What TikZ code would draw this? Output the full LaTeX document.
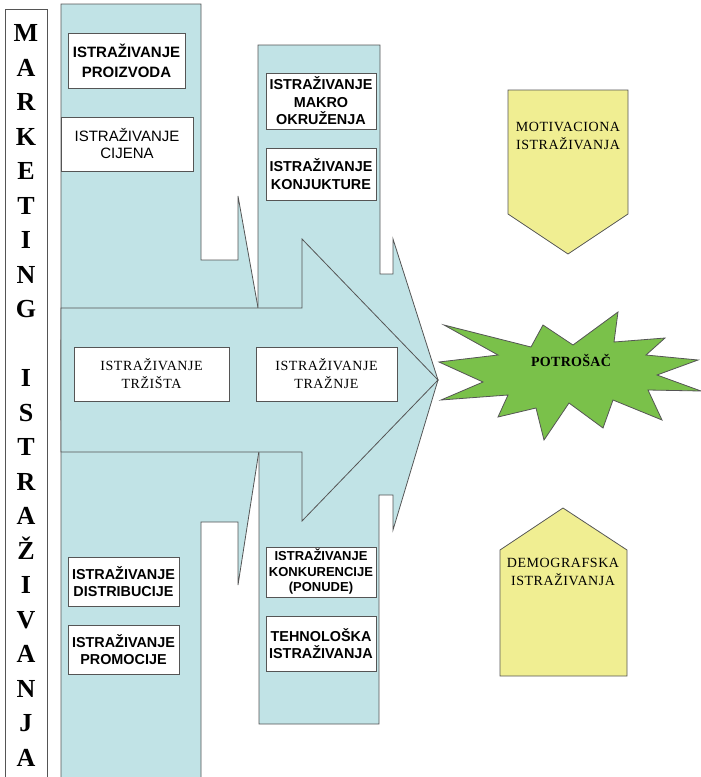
\documentclass[tikz,border=0pt]{standalone}
\usepackage{fontspec}
\setmainfont{Liberation Serif}
\setsansfont{Liberation Sans}
\usepackage{xcolor}
\usetikzlibrary{calc}
\definecolor{flowblue}{RGB}{193,227,230}
\definecolor{penyellow}{RGB}{240,238,146}
\definecolor{burstgreen}{RGB}{122,193,74}
\definecolor{edgegray}{RGB}{85,85,85}

\tikzset{
  flowshape/.style={fill=flowblue, draw=edgegray, line width=0.8pt, line join=miter},
  penshape/.style={fill=penyellow, draw=edgegray, line width=0.8pt},
  boldbox/.style={draw=edgegray, fill=white, line width=1pt, inner sep=0pt, align=center,
    font=\sffamily\bfseries\fontsize{14.4}{17.5}\selectfont},
  plainbox/.style={draw=edgegray, fill=white, line width=1pt, inner sep=0pt, align=center,
    font=\sffamily\fontsize{15}{17}\selectfont},
  serifbox/.style={draw=edgegray, fill=white, line width=1pt, inner sep=0pt, align=center,
    font=\fontsize{14}{18}\selectfont\addfontfeature{LetterSpace=4}},
  seriftext/.style={inner sep=0pt, align=center,
    font=\fontsize{14}{18}\selectfont\addfontfeature{LetterSpace=4}},
  sideletter/.style={inner sep=0pt, anchor=base, font=\bfseries\fontsize{26}{26}\selectfont}
}

\begin{document}
\begin{tikzpicture}[x=1pt,y=-1pt]
    \useasboundingbox (0,0) rectangle (701,777);

    % upper left bent arrow
    \coordinate (a1) at (61,4);
    \coordinate (a2) at (201,4);
    \coordinate (a3) at (201,260);
    \coordinate (a4) at (238,260);
    \coordinate (a5) at (238,196);
    \coordinate (a6) at (262,330);
    \coordinate (a7) at (238,420);
    \coordinate (a8) at (61,420);

    % lower left bent arrow
    \coordinate (b1) at (61,780);
    \coordinate (b2) at (201,780);
    \coordinate (b3) at (201,522);
    \coordinate (b4) at (238,522);
    \coordinate (b5) at (238,585);
    \coordinate (b6) at (263,425);
    \coordinate (b7) at (238,340);
    \coordinate (b8) at (61,340);

    % upper middle bent arrow
    \coordinate (c1) at (258,45);
    \coordinate (c2) at (380,45);
    \coordinate (c3) at (380,274);
    \coordinate (c4) at (393,274);
    \coordinate (c5) at (393,239);
    \coordinate (tip) at (438,380);
    \coordinate (c6) at (258,380);

    % lower middle bent arrow
    \coordinate (d1) at (259,724);
    \coordinate (d2) at (379,724);
    \coordinate (d3) at (379,495);
    \coordinate (d4) at (393,495);
    \coordinate (d5) at (393,530);
    \coordinate (d6) at (259,380);

    % main arrow
    \coordinate (m1) at (61,308);
    \coordinate (m2) at (302,308);
    \coordinate (m3) at (302,239);
    \coordinate (m4) at (302,521);
    \coordinate (m5) at (302,452);
    \coordinate (m6) at (61,452);

    % Fill arrows
    \filldraw[flowshape] (a1) -- (a2) -- (a3) -- (a4) -- (a5) -- (a6) -- (a7) -- (a8) -- cycle;
    \filldraw[flowshape] (b1) -- (b2) -- (b3) -- (b4) -- (b5) -- (b6) -- (b7) -- (b8) -- cycle;
    \filldraw[flowshape] (c1) -- (c2) -- (c3) -- (c4) -- (c5) -- (tip) -- (c6) -- cycle;
    \filldraw[flowshape] (d1) -- (d2) -- (d3) -- (d4) -- (d5) -- (tip) -- (d6) -- cycle;
    \filldraw[flowshape] (m1) -- (m2) -- (m3) -- (tip) -- (m4) -- (m5) -- (m6) -- cycle;

    % side label
    \draw[edgegray, line width=1pt, fill=white] (5,9) rectangle (47,780);
    \foreach \ch [count=\i from 0] in {M,A,R,K,E,T,I,N,G,{},I,S,T,R,A,Ž,I,V,A,N,J,A}
        \node[sideletter] (letter\i) at (26,{41.5+34.5*\i}) {\ch};

    % boxes on the arrows
    \node[boldbox, minimum width=117pt, minimum height=55pt, font=\sffamily\bfseries\fontsize{15}{20}\selectfont]
        (proizvoda) at (126.5,60.5) {ISTRAŽIVANJE\\PROIZVODA};
    \node[plainbox, minimum width=132pt, minimum height=54pt] (cijena) at (127,144) {ISTRAŽIVANJE\\CIJENA};
    \node[boldbox, minimum width=110pt, minimum height=56pt] (makro) at (321,101) {ISTRAŽIVANJE\\MAKRO\\OKRUŽENJA};
    \node[boldbox, minimum width=110pt, minimum height=52pt] (konjukture) at (321,174) {ISTRAŽIVANJE\\KONJUKTURE};
    \node[serifbox, minimum width=155pt, minimum height=54pt] (trzista) at (151.5,374) {ISTRAŽIVANJE\\TRŽIŠTA};
    \node[serifbox, minimum width=141pt, minimum height=54pt] (traznje) at (326.5,374) {ISTRAŽIVANJE\\TRAŽNJE};
    \node[boldbox, minimum width=111pt, minimum height=49pt] (distribucije) at (123.5,581.5) {ISTRAŽIVANJE\\DISTRIBUCIJE};
    \node[boldbox, minimum width=111pt, minimum height=49pt] (promocije) at (123.5,649.5) {ISTRAŽIVANJE\\PROMOCIJE};
    \node[boldbox, minimum width=110pt, minimum height=50pt, font=\sffamily\bfseries\fontsize{13}{15.5}\selectfont]
        (konkurencije) at (321,572) {ISTRAŽIVANJE\\KONKURENCIJE\\(PONUDE)};
    \node[boldbox, minimum width=110pt, minimum height=55pt] (tehnoloska) at (321,643.5) {TEHNOLOŠKA\\ISTRAŽIVANJA};

    % yellow pentagons
    \filldraw[penshape] (508,90) -- (628,90) -- (628,214) -- (568,254) -- (508,214) -- cycle;
    \node[seriftext] (motivaciona) at (568,136) {MOTIVACIONA\\ISTRAŽIVANJA};
    \filldraw[penshape] (500,550) -- (563,508) -- (627,550) -- (627,676) -- (500,676) -- cycle;
    \node[seriftext] (demografska) at (563,572) {DEMOGRAFSKA\\ISTRAŽIVANJA};

    % consumer burst
    \filldraw[fill=burstgreen, draw=edgegray, line width=0.8pt]
        (444,325) -- (531,347) -- (543,325) -- (573,345) -- (618,312) -- (614,342)
        -- (665,338) -- (646,355) -- (698,360) -- (657,375) -- (701,391) -- (648,390)
        -- (662,420) -- (613,400) -- (603,428) -- (569,403) -- (544,440) -- (536,408)
        -- (498,417) -- (508,395) -- (441,400) -- (483,382) -- (439,362) -- (498,355) -- cycle;
    \node[font=\bfseries\fontsize{14}{14}\selectfont\addfontfeature{LetterSpace=2}, inner sep=0pt]
        (potrosac) at (571,360) {POTROŠAČ};
\end{tikzpicture}
\end{document}
